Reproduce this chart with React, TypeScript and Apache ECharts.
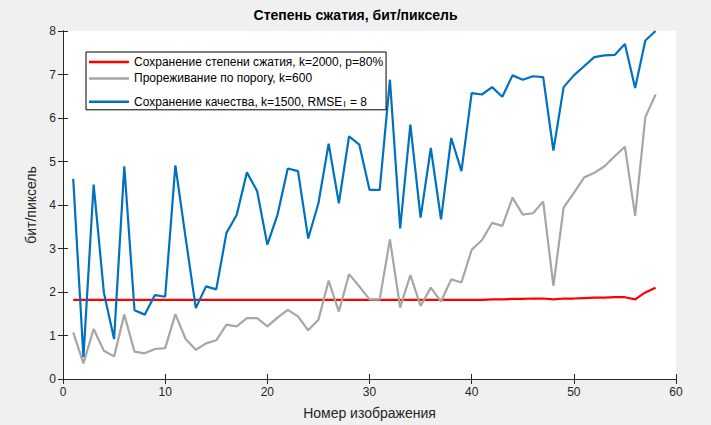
import React, { useEffect, useRef } from "react";
import * as echarts from "echarts";

const titleText = "Степень сжатия, бит/пиксель";
const xAxisName = "Номер изображения";
const yAxisName = "бит/пиксель";

const seriesNames = [
  "Сохранение степени сжатия, k=2000, p=80%",
  "Прореживание по порогу, k=600",
  "Сохранение качества, k=1500, RMSE_I = 8",
];

const redValues = [
  1.82, 1.82, 1.82, 1.82, 1.82, 1.82, 1.82, 1.82, 1.82, 1.82,
  1.82, 1.82, 1.82, 1.82, 1.82, 1.82, 1.82, 1.82, 1.82, 1.82,
  1.82, 1.82, 1.82, 1.82, 1.82, 1.82, 1.82, 1.82, 1.82, 1.82,
  1.82, 1.82, 1.82, 1.82, 1.82, 1.82, 1.82, 1.82, 1.82, 1.82,
  1.82, 1.83, 1.83, 1.84, 1.84, 1.85, 1.85, 1.83, 1.85, 1.85,
  1.86, 1.87, 1.87, 1.88, 1.88, 1.83, 1.99, 2.1,
];

const grayValues = [
  1.07, 0.36, 1.15, 0.65, 0.52, 1.48, 0.63, 0.59, 0.69, 0.71,
  1.49, 0.92, 0.67, 0.82, 0.89, 1.25, 1.21, 1.4, 1.4, 1.21,
  1.41, 1.59, 1.44, 1.12, 1.36, 2.26, 1.55, 2.41, 2.13, 1.83,
  1.83, 3.21, 1.64, 2.39, 1.68, 2.1, 1.78, 2.29, 2.22, 2.97,
  3.19, 3.59, 3.52, 4.17, 3.78, 3.81, 4.08, 2.14, 3.94, 4.28,
  4.63, 4.74, 4.89, 5.12, 5.34, 3.75, 6.02, 6.54,
];

const blueValues = [
  4.6, 0.5, 4.47, 1.99, 0.92, 4.89, 1.58, 1.48, 1.93, 1.89,
  4.91, 3.25, 1.63, 2.13, 2.06, 3.36, 3.77, 4.75, 4.32, 3.09,
  3.78, 4.84, 4.78, 3.23, 4.04, 5.41, 4.04, 5.58, 5.39, 4.35,
  4.35, 6.88, 3.46, 5.85, 3.71, 5.31, 3.67, 5.54, 4.78, 6.57,
  6.54, 6.71, 6.49, 6.98, 6.88, 6.96, 6.94, 5.25, 6.71, 6.98,
  7.19, 7.4, 7.44, 7.45, 7.7, 6.69, 7.78, 8.0,
];

const seriesColors = ["#ff0000", "#a6a6a6", "#0072bd"];

const toPairs = (vals: number[]) => vals.map((v, i) => [i + 1, v]);

export default function App() {
  const ref = useRef<HTMLDivElement>(null);
  useEffect(() => {
    document.body.style.margin = "0";
    document.body.style.background = "#f0f0f0";
    const chart = echarts.init(ref.current!, null, { renderer: "svg" });
    const font = "Liberation Sans";
    const axisCol = "#262626";
    const axisCommon = {
      axisLine: { show: true, lineStyle: { color: axisCol, width: 1 } },
      axisTick: { show: true, inside: true, length: 5, lineStyle: { color: axisCol } },
      splitLine: { show: false },
    };
    chart.setOption({
      animation: false,
      backgroundColor: "#f0f0f0",
      textStyle: { fontFamily: font },
      title: {
        text: titleText,
        left: "center",
        top: 8,
        padding: [0, 0, 0, 29],
        textStyle: { fontFamily: font, fontSize: 14, fontWeight: "bold", color: "#000" },
      },
      grid: {
        left: 63,
        right: 35,
        top: 31,
        bottom: 45,
        show: true,
        backgroundColor: "#ffffff",
        borderWidth: 0,
      },
      legend: {
        orient: "vertical",
        left: 86,
        top: 52,
        padding: [3, 3, 1, 3],
        itemGap: 2.4,
        itemWidth: 40,
        itemHeight: 2.5,
        icon: "rect",
        backgroundColor: "#ffffff",
        borderColor: "#000000",
        borderWidth: 1,
        borderRadius: 0,
        data: seriesNames,
        formatter: (name: string) => {
          if (name.indexOf("RMSE_I") >= 0) {
            const parts = name.split("RMSE_I");
            return parts[0] + "RMSE{sub|I}" + parts[1];
          }
          return name;
        },
        textStyle: {
          fontFamily: font,
          fontSize: 12,
          lineHeight: 14,
          color: "#000",
          rich: {
            sub: { fontFamily: font, fontSize: 9, verticalAlign: "bottom", lineHeight: 9, padding: [12, 1, 0, 1], color: "#000" },
          },
        },
      },
      xAxis: [
        {
          type: "value",
          min: 0,
          max: 60,
          interval: 10,
          position: "bottom",
          name: xAxisName,
          nameLocation: "middle",
          nameGap: 27,
          nameTextStyle: { fontFamily: font, fontSize: 14, color: axisCol },
          axisLabel: { fontFamily: font, fontSize: 12, color: axisCol, margin: 7 },
          ...axisCommon,
        },
        {
          type: "value",
          min: 0,
          max: 60,
          interval: 10,
          position: "top",
          axisLabel: { show: false },
          ...axisCommon,
        },
      ],
      yAxis: [
        {
          type: "value",
          min: 0,
          max: 8,
          interval: 1,
          position: "left",
          name: yAxisName,
          nameLocation: "middle",
          nameGap: 11,
          nameTextStyle: { fontFamily: font, fontSize: 14, color: axisCol },
          axisLabel: { fontFamily: font, fontSize: 12, color: axisCol, margin: 7 },
          ...axisCommon,
        },
        {
          type: "value",
          min: 0,
          max: 8,
          interval: 1,
          position: "right",
          axisLabel: { show: false },
          ...axisCommon,
        },
      ],
      series: [redValues, grayValues, blueValues].map((vals, i) => ({
        name: seriesNames[i],
        type: "line",
        data: toPairs(vals),
        showSymbol: false,
        symbol: "none",
        color: seriesColors[i],
        lineStyle: { color: seriesColors[i], width: 2.2 },
        clip: true,
      })),
    });
    return () => chart.dispose();
  }, []);
  return <div ref={ref} style={{ width: 711, height: 425 }} />;
}
